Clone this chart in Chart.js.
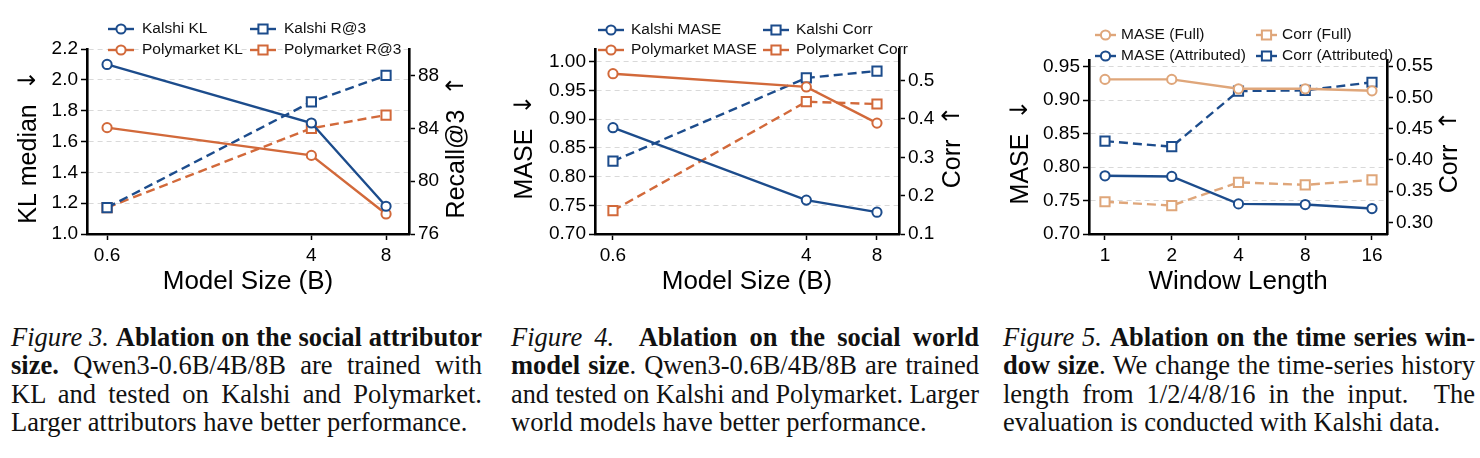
<!DOCTYPE html>
<html>
<head>
<meta charset="utf-8">
<script src="https://cdn.jsdelivr.net/npm/chart.js@4.4.1/dist/chart.umd.min.js"></script>
<style>
  body { margin: 0; width: 1480px; height: 458px; background: #fff; position: relative; overflow: hidden; }
  .plot { position: absolute; top: 0; height: 300px; }
  .cap { position: absolute; top: 323px; font-family: "Liberation Serif", "Times New Roman", serif; font-size: 26.5px; line-height: 28.4px; color: #111; }
  .cap div { white-space: nowrap; text-align: justify; text-align-last: justify; overflow: visible; }
  .cap div.last { text-align-last: left; }
  .cap span { transform-origin: 0 50%; }
</style>
</head>
<body>
<div class="plot" style="left:0;width:490px"><canvas id="fig3"></canvas></div>
<div class="plot" style="left:490px;width:490px"><canvas id="fig4"></canvas></div>
<div class="plot" style="left:980px;width:500px"><canvas id="fig5"></canvas></div>

<div class="cap" style="left:11px;width:471px">
  <div><span><i>Figure 3.</i> <b>Ablation on the social attributor</b></span></div>
  <div><span><b>size.</b> Qwen3-0.6B/4B/8B are trained with</span></div>
  <div><span>KL and tested on Kalshi and Polymarket.</span></div>
  <div class="last"><span>Larger attributors have better performance.</span></div>
</div>
<div class="cap" style="left:511px;width:468px">
  <div><span><i>Figure 4.</i>&nbsp; <b>Ablation on the social world</b></span></div>
  <div><span><b>model size</b>. Qwen3-0.6B/4B/8B are trained</span></div>
  <div><span>and tested on Kalshi and Polymarket. Larger</span></div>
  <div class="last"><span>world models have better performance.</span></div>
</div>
<div class="cap" style="left:1003px;width:472px">
  <div><span><i>Figure 5.</i> <b>Ablation on the time series win-</b></span></div>
  <div><span><b>dow size</b>. We change the time-series history</span></div>
  <div><span>length from 1/2/4/8/16 in the input.&nbsp; The</span></div>
  <div class="last"><span>evaluation is conducted with Kalshi data.</span></div>
</div>

<script>
// ---- data ----
const sizes = [0.6, 4, 8];
const sizeLabels = ['0.6', '4', '8'];

// Figure 3: attributor size
const kalshiKL = [2.10, 1.72, 1.18];
const polyKL = [1.69, 1.51, 1.13];
const kalshiR3 = [78.0, 86.0, 88.0];
const polyR3 = [78.0, 84.0, 85.0];
const klTicks = [1.0, 1.2, 1.4, 1.6, 1.8, 2.0, 2.2];
const recallTicks = [76, 80, 84, 88];

// Figure 4: world model size
const kalshiMASE = [0.885, 0.759, 0.738];
const polyMASE = [0.979, 0.956, 0.893];
const kalshiCorr = [0.290, 0.507, 0.525];
const polyCorr = [0.161, 0.445, 0.439];
const maseTicks4 = [0.70, 0.75, 0.80, 0.85, 0.90, 0.95, 1.00];
const corrTicks4 = [0.1, 0.2, 0.3, 0.4, 0.5];

// Figure 5: window length
const windows = [1, 2, 4, 8, 16];
const windowLabels = ['1', '2', '4', '8', '16'];
const maseFull = [0.931, 0.931, 0.917, 0.917, 0.914];
const maseAttr = [0.787, 0.786, 0.745, 0.744, 0.738];
const corrFull = [0.333, 0.327, 0.364, 0.360, 0.368];
const corrAttr = [0.430, 0.421, 0.510, 0.511, 0.524];
const maseTicks5 = [0.70, 0.75, 0.80, 0.85, 0.90, 0.95];
const corrTicks5 = [0.30, 0.35, 0.40, 0.45, 0.50, 0.55];

const BLUE = '#1c4c8c';
const ORANGE = '#d2693a';
const LIGHT = '#dfa67a';
const FONT = '"Liberation Sans", Arial, Helvetica, sans-serif';
const ARROW_FONT = '"DejaVu Sans", sans-serif';

Chart.defaults.font.family = FONT;
Chart.defaults.color = '#000';

const pts = (xs, ys) => xs.map((x, i) => ({ x, y: ys[i] }));

function series(label, xs, ys, color, axis) {
  const right = axis === 'yr';
  return {
    label, data: pts(xs, ys), yAxisID: axis,
    borderColor: color, borderWidth: 2.4, borderDash: right ? [9, 5] : [],
    pointStyle: right ? 'rect' : 'circle', pointRadius: right ? 6.5 : 4.6,
    pointBorderWidth: 2, pointBackgroundColor: '#fff', pointBorderColor: color,
    tension: 0, fill: false, clip: false,
  };
}

// rotated title: text then arrow (arrow in DejaVu, it has a proper long glyph)
function vTitle(ctx, text, arrow, x, y) {
  ctx.save();
  ctx.translate(x, y);
  ctx.rotate(-Math.PI / 2);
  ctx.font = '25px ' + FONT;
  const tw = ctx.measureText(text + '  ').width;
  ctx.font = '24px ' + ARROW_FONT;
  const aw = ctx.measureText(arrow).width;
  let sx = -(tw + aw) / 2;
  ctx.textAlign = 'left';
  ctx.font = '25px ' + FONT;
  ctx.fillText(text, sx, 0);
  ctx.font = '24px ' + ARROW_FONT;
  ctx.fillText(arrow, sx + tw, 0);
  ctx.restore();
}

// titles + 2x2 legend drawn on the canvas
const decor = {
  id: 'decor',
  afterDraw(chart, args, o) {
    const { ctx, chartArea: a } = chart;
    ctx.save();
    ctx.fillStyle = '#000';
    ctx.textAlign = 'center';
    ctx.textBaseline = 'middle';
    ctx.font = '26px ' + FONT;
    ctx.fillText(o.xTitle, (a.left + a.right) / 2, o.xTitleY);
    vTitle(ctx, o.yTitle, '↓', o.yTitleX, o.yTitleY);
    vTitle(ctx, o.rTitle, '↑', o.rTitleX, o.yTitleY);

    ctx.font = '15.5px ' + FONT;
    ctx.textAlign = 'left';
    chart.data.datasets.forEach((ds, i) => {
      const [x, y] = o.legend[i];
      const len = o.legLen;
      ctx.strokeStyle = ds.borderColor;
      ctx.lineWidth = ds.borderWidth;
      ctx.setLineDash([]);
      ctx.beginPath(); ctx.moveTo(x, y); ctx.lineTo(x + len, y); ctx.stroke();
      const cx = x + len / 2;
      ctx.fillStyle = '#fff';
      ctx.lineWidth = 2;
      ctx.beginPath();
      if (ds.pointStyle === 'rect') {
        const s = ds.pointRadius * Math.SQRT1_2;
        ctx.rect(cx - s, y - s, 2 * s, 2 * s);
      } else {
        ctx.arc(cx, y, ds.pointRadius, 0, Math.PI * 2);
      }
      ctx.fill(); ctx.stroke();
      ctx.fillStyle = '#111';
      ctx.fillText(ds.label, x + len + o.legGap, y);
    });
    ctx.restore();
  }
};

function makeChart(id, c) {
  const W = c.W, H = 300, A = c.area;
  const setTicks = vals => s => { s.ticks = vals.map(v => ({ value: v })); };
  const tickFont = { size: 19 };
  const cv = document.getElementById(id);
  cv.width = W; cv.height = H;
  new Chart(cv, {
    type: 'line',
    data: { datasets: c.datasets },
    options: {
      responsive: false, animation: false, events: [],
      layout: { padding: { top: A.t, left: 0, right: 0, bottom: 0 } },
      plugins: { legend: { display: false }, tooltip: { enabled: false }, decor: c.decor },
      scales: {
        x: {
          type: 'logarithmic', position: 'bottom', min: c.x.min, max: c.x.max,
          afterBuildTicks: setTicks(c.x.ticks),
          afterFit: s => { s.height = H - A.b; },
          ticks: { font: tickFont, color: '#000', padding: 4, maxRotation: 0, autoSkip: false,
                   callback: (v, i) => c.x.labels[i] },
          grid: { drawOnChartArea: false, tickLength: 6, tickWidth: 1.5, tickColor: '#000' },
          border: { width: 2.6, color: '#000' },
        },
        yl: {
          type: 'linear', position: 'left', min: c.yl.min, max: c.yl.max,
          afterBuildTicks: setTicks(c.yl.ticks),
          afterFit: s => { s.width = A.l; },
          ticks: { font: tickFont, color: '#000', padding: 3, callback: v => v.toFixed(c.yl.dec) },
          grid: { color: '#d9d9d9', lineWidth: 1, tickLength: 6, tickWidth: 1.5, tickColor: '#000' },
          border: { width: 2.6, color: '#000', dash: [5, 4] },
        },
        yr: {
          type: 'linear', position: 'right', min: c.yr.min, max: c.yr.max,
          afterBuildTicks: setTicks(c.yr.ticks),
          afterFit: s => { s.width = W - A.r; },
          ticks: { font: tickFont, color: '#000', padding: 3, callback: v => v.toFixed(c.yr.dec) },
          grid: { drawOnChartArea: false, tickLength: 6, tickWidth: 1.5, tickColor: '#000' },
          border: { width: 2.6, color: '#000' },
        },
      },
    },
    plugins: [decor],
  });
}

makeChart('fig3', {
  W: 490, area: { l: 87, r: 409, t: 49, b: 234 },
  x: { min: 0.498, max: 9.9, ticks: sizes, labels: sizeLabels },
  yl: { min: 1.0, max: 2.2, ticks: klTicks, dec: 1 },
  yr: { min: 76, max: 90, ticks: recallTicks, dec: 0 },
  datasets: [
    series('Kalshi KL', sizes, kalshiKL, BLUE, 'yl'),
    series('Polymarket KL', sizes, polyKL, ORANGE, 'yl'),
    series('Kalshi R@3', sizes, kalshiR3, BLUE, 'yr'),
    series('Polymarket R@3', sizes, polyR3, ORANGE, 'yr'),
  ],
  decor: {
    xTitle: 'Model Size (B)', xTitleY: 282,
    yTitle: 'KL median', yTitleX: 29, rTitle: 'Recall@3', rTitleX: 457, yTitleY: 147,
    legend: [[108, 29], [108, 50], [250, 29], [250, 50]], legLen: 26, legGap: 8,
  },
});

makeChart('fig4', {
  W: 490, area: { l: 105, r: 409, t: 49, b: 234 },
  x: { min: 0.503, max: 9.93, ticks: sizes, labels: sizeLabels },
  yl: { min: 0.70, max: 1.022, ticks: maseTicks4, dec: 2 },
  yr: { min: 0.1, max: 0.5825, ticks: corrTicks4, dec: 1 },
  datasets: [
    series('Kalshi MASE', sizes, kalshiMASE, BLUE, 'yl'),
    series('Polymarket MASE', sizes, polyMASE, ORANGE, 'yl'),
    series('Kalshi Corr', sizes, kalshiCorr, BLUE, 'yr'),
    series('Polymarket Corr', sizes, polyCorr, ORANGE, 'yr'),
  ],
  decor: {
    xTitle: 'Model Size (B)', xTitleY: 282,
    yTitle: 'MASE', yTitleX: 35, rTitle: 'Corr', rTitleX: 463, yTitleY: 147,
    legend: [[108, 30], [108, 50], [273, 30], [273, 50]], legLen: 26, legGap: 7,
  },
});

makeChart('fig5', {
  W: 500, area: { l: 109, r: 407, t: 60, b: 234 },
  x: { min: 0.847, max: 18.7, ticks: windows, labels: windowLabels },
  yl: { min: 0.70, max: 0.960, ticks: maseTicks5, dec: 2 },
  yr: { min: 0.2815, max: 0.5596, ticks: corrTicks5, dec: 2 },
  datasets: [
    series('MASE (Full)', windows, maseFull, LIGHT, 'yl'),
    series('MASE (Attributed)', windows, maseAttr, BLUE, 'yl'),
    series('Corr (Full)', windows, corrFull, LIGHT, 'yr'),
    series('Corr (Attributed)', windows, corrAttr, BLUE, 'yr'),
  ],
  decor: {
    xTitle: 'Window Length', xTitleY: 282,
    yTitle: 'MASE', yTitleX: 41, rTitle: 'Corr', rTitleX: 470, yTitleY: 152,
    legend: [[115, 35], [115, 56], [276, 35], [276, 56]], legLen: 21, legGap: 5,
  },
});

// captions: squeeze any line whose natural width is wider than its column
function fitCaptions() {
  document.querySelectorAll('.cap').forEach(cap => {
    const target = cap.clientWidth;
    cap.querySelectorAll('span').forEach(sp => {
      sp.style.transform = '';
      sp.style.display = 'inline-block';   // shrink-to-fit: natural width
      const w = sp.getBoundingClientRect().width;
      if (w > target) {
        sp.style.transform = 'scaleX(' + (target / w) + ')';
      } else {
        sp.style.display = '';              // back to inline so the line justifies
      }
    });
  });
}
fitCaptions();
document.fonts.ready.then(fitCaptions);
</script>
</body>
</html>
